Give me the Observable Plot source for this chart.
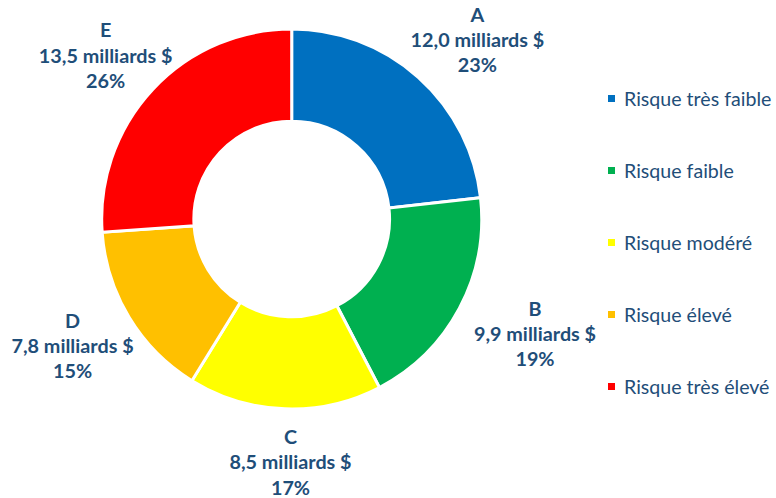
<!DOCTYPE html>
<html>
<head>
<meta charset="utf-8">
<script src="https://cdn.jsdelivr.net/npm/d3@7"></script>
<script src="https://cdn.jsdelivr.net/npm/@observablehq/plot@0.6"></script>
<style>
  body { margin: 0; background: #ffffff; }
  #wrap { position: relative; width: 776px; height: 498px; font-family: Lato, "Open Sans", sans-serif; }
  #legend { position: absolute; left: 605px; top: 62px; }
  .item { display: flex; align-items: center; height: 72px; color: #1F4E79; font-size: 19.6px; white-space: nowrap; }
  .sw { width: 7px; height: 7px; margin-right: 9px; margin-left: 3px; }
</style>
</head>
<body>
<div id="wrap"></div>
<script>
// ---- data ----
const categories = ["A", "B", "C", "D", "E"];
const riskLevels = ["Risque très faible", "Risque faible", "Risque modéré", "Risque élevé", "Risque très élevé"];
const amounts = [12.0, 9.9, 8.5, 7.8, 13.5];            // milliards $
const amountLabels = ["12,0 milliards $", "9,9 milliards $", "8,5 milliards $", "7,8 milliards $", "13,5 milliards $"];
const percentLabels = ["23%", "19%", "17%", "15%", "26%"];
const riskColors = ["#0070C0", "#00B050", "#FFFF00", "#FFC000", "#FF0000"];

// ---- layout helpers ----
const W = 776, H = 498;
const CX = 291.7, CY = 219, RPX = 190;       // ring centre and outer radius (px)
const INNER = 0.515;                          // inner radius / outer radius
const LABEL_RX = 1 + (10 + 66) / RPX;         // label ellipse radii in ring units
const LABEL_RY = 1 + (10 + 42) / RPX;

const rows = categories.map((c, i) => ({
  cat: c, risk: riskLevels[i], value: amounts[i],
  text: `${c}\n${amountLabels[i]}\n${percentLabels[i]}`
}));
const arcs = d3.pie().sort(null).value(d => d.value)(rows);
arcs.forEach(a => {
  const m = (a.startAngle + a.endAngle) / 2;
  a.lx = LABEL_RX * Math.sin(m);
  a.ly = LABEL_RY * Math.cos(m);
});

function ring(index, scales) {
  const {x, y, color} = scales;
  const cx = x(0), cy = y(0), R = x(1) - x(0);
  const arc = d3.arc().innerRadius(R * INNER).outerRadius(R);
  const g = d3.create("svg:g").attr("transform", `translate(${cx},${cy})`);
  g.selectAll("path").data(arcs).join("path")
    .attr("d", arc)
    .attr("fill", d => color(d.data.risk))
    .attr("stroke", "#ffffff")
    .attr("stroke-width", 3)
    .attr("stroke-linejoin", "miter");
  return g.node();
}

const chart = Plot.plot({
  width: W, height: H,
  margin: 0,
  x: {domain: [-CX / RPX, (W - CX) / RPX], axis: null},
  y: {domain: [-(H - CY) / RPX, CY / RPX], axis: null},
  color: {domain: riskLevels, range: riskColors},
  style: {fontFamily: "Lato, 'Open Sans', sans-serif", background: "#ffffff"},
  marks: [
    Plot.dot(arcs, {x: 0, y: 0, r: 0, fill: d => d.data.risk}),
    ring,
    Plot.text(arcs, {
      x: "lx", y: "ly", text: d => d.data.text, dx: 8,
      lineAnchor: "middle", textAnchor: "middle",
      lineHeight: 1.27, fontSize: 19.8, fontWeight: "bold", fill: "#1F4E79"
    })
  ]
});

const wrap = document.getElementById("wrap");
wrap.appendChild(chart);

// legend built from the plot's own color scale
const cs = chart.scale("color");
const legend = document.createElement("div");
legend.id = "legend";
cs.domain.forEach((name, i) => {
  const item = document.createElement("div");
  item.className = "item";
  const sw = document.createElement("span");
  sw.className = "sw";
  sw.style.background = cs.range[i];
  const t = document.createElement("span");
  t.textContent = name;
  item.appendChild(sw); item.appendChild(t);
  legend.appendChild(item);
});
wrap.appendChild(legend);
</script>
</body>
</html>
